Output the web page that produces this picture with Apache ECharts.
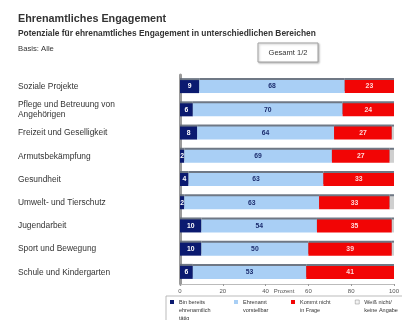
<!DOCTYPE html>
<html>
<head>
<meta charset="utf-8">
<script src="https://cdn.jsdelivr.net/npm/echarts@6/dist/echarts.min.js"></script>
<style>html,body{margin:0;padding:0;background:#fff;}#c{width:402px;height:320px;}</style>
</head>
<body>
<div id="c"></div>
<script>
const categories = ['Soziale Projekte', 'Pflege und Betreuung von\nAngehörigen', 'Freizeit und Geselligkeit', 'Armutsbekämpfung', 'Gesundheit', 'Umwelt- und Tierschutz', 'Jugendarbeit', 'Sport und Bewegung', 'Schule und Kindergarten'];
const seriesNames = ['Bin bereits ehrenamtlich tätig', 'Ehrenamt vorstellbar', 'Kommt nicht in Frage', 'Weiß nicht/keine Angabe'];
const legendTexts = ['Bin bereits\nehrenamtlich\ntätig', 'Ehrenamt\nvorstellbar', 'Kommt nicht\nin Frage', 'Weiß nicht/\nkeine Angabe'];
const bereits = [9, 6, 8, 2, 4, 2, 10, 10, 6];
const vorstellbar = [68, 70, 64, 69, 63, 63, 54, 50, 53];
const nichtInFrage = [23, 24, 27, 27, 33, 33, 35, 39, 41];
const weissNicht = [0, 0, 1, 2, 0, 2, 1, 1, 0];
const xTicks = [0, 20, 40, 60, 80, 100];

const FONT = 'Liberation Sans, Arial, sans-serif';
const colors = ['#0b1a70', '#a9cff5', '#f20505', '#cfcfcf'];
const labelColors = ['#ffffff', '#1c2d6e', '#ffd8d8', '#333'];
const values = [bereits, vorstellbar, nichtInFrage, weissNicht];

const chart = echarts.init(document.getElementById('c'), null, {renderer: 'canvas'});
const L = 8;
const markerLeft = [170, 234, 291, 355];
const legends = seriesNames.map((n, i) => {
  const lines = legendTexts[i].split('\n').length;
  const txt = '\n'.repeat(lines - 1) + legendTexts[i];
  return {
    data: [n],
    left: markerLeft[i],
    top: 302 - (2 * lines - 1) * L / 2,
    padding: 0,
    orient: 'horizontal',
    itemWidth: 4,
    itemHeight: 4,
    icon: 'rect',
    selectedMode: false,
    formatter: () => txt,
    textStyle: {fontFamily: FONT, fontSize: 5.5, color: '#333', lineHeight: L},
    itemStyle: i === 3 ? {borderColor: '#888', borderWidth: 0.5, color: '#f4f4f4'} : {}
  };
});

const option = {
  animation: false,
  backgroundColor: '#ffffff',
  title: [
    {text: 'Ehrenamtliches Engagement', left: 18, top: 14, padding: 0, textStyle: {fontFamily: FONT, fontSize: 10.8, fontWeight: 'bold', color: '#333'}},
    {text: 'Potenziale für ehrenamtliches Engagement in unterschiedlichen Bereichen', left: 18, top: 30, padding: 0, textStyle: {fontFamily: FONT, fontSize: 8.4, fontWeight: 'bold', color: '#333'}},
    {text: 'Basis: Alle', left: 18, top: 45, padding: 0, textStyle: {fontFamily: FONT, fontSize: 7.7, fontWeight: 'normal', color: '#333'}}
  ],
  legend: legends,
  grid: {left: 180, right: 1, top: 75, bottom: 36, containLabel: false},
  xAxis: {
    type: 'value', min: 0, max: 100, interval: 20,
    name: 'Prozent', nameLocation: 'middle', nameGap: 7, nameMoveOverlap: false,
    nameTextStyle: {fontFamily: FONT, fontSize: 6, color: '#555', verticalAlign: 'middle', padding: [0, 0, 0, -6]},
    axisLine: {show: true, lineStyle: {color: '#bbb', width: 1}},
    axisTick: {show: true, length: 2, lineStyle: {color: '#999'}},
    axisLabel: {fontFamily: FONT, fontSize: 6, color: '#555', margin: 4, formatter: v => xTicks.includes(v) ? String(v) : ''},
    splitLine: {show: false}
  },
  yAxis: {
    type: 'category', inverse: true, data: categories,
    axisLine: {show: true, lineStyle: {color: '#9a9a9a', width: 3}},
    axisTick: {show: false},
    axisLabel: {fontFamily: FONT, fontSize: 8.4, color: '#333', align: 'left', margin: 162, lineHeight: 10}
  },
  graphic: [
    {type: 'rect', shape: {x: 258, y: 43, width: 60, height: 19}, style: {fill: '#fff', stroke: '#a0a0a0', lineWidth: 1, shadowColor: 'rgba(0,0,0,0.25)', shadowBlur: 2, shadowOffsetX: 1, shadowOffsetY: 1}},
    {type: 'text', x: 288, y: 52.5, style: {text: 'Gesamt 1/2', align: 'center', verticalAlign: 'middle', fontFamily: FONT, fontSize: 7.5, fill: '#333'}},
    {type: 'rect', shape: {x: 166, y: 296, width: 240, height: 30}, style: {fill: 'none', stroke: '#aaa', lineWidth: 0.8}, z: -1}
  ],
  series: seriesNames.map((n, i) => ({
    name: n, type: 'bar', stack: 'total', barWidth: '56%',
    data: values[i],
    itemStyle: {color: colors[i], shadowColor: 'rgba(95,105,120,0.9)', shadowOffsetY: -2, shadowBlur: 0},
    label: {show: i < 3, position: 'inside', fontFamily: FONT, fontSize: 6.8, fontWeight: 'bold', color: labelColors[i]}
  }))
};
chart.setOption(option);
</script>
</body>
</html>
